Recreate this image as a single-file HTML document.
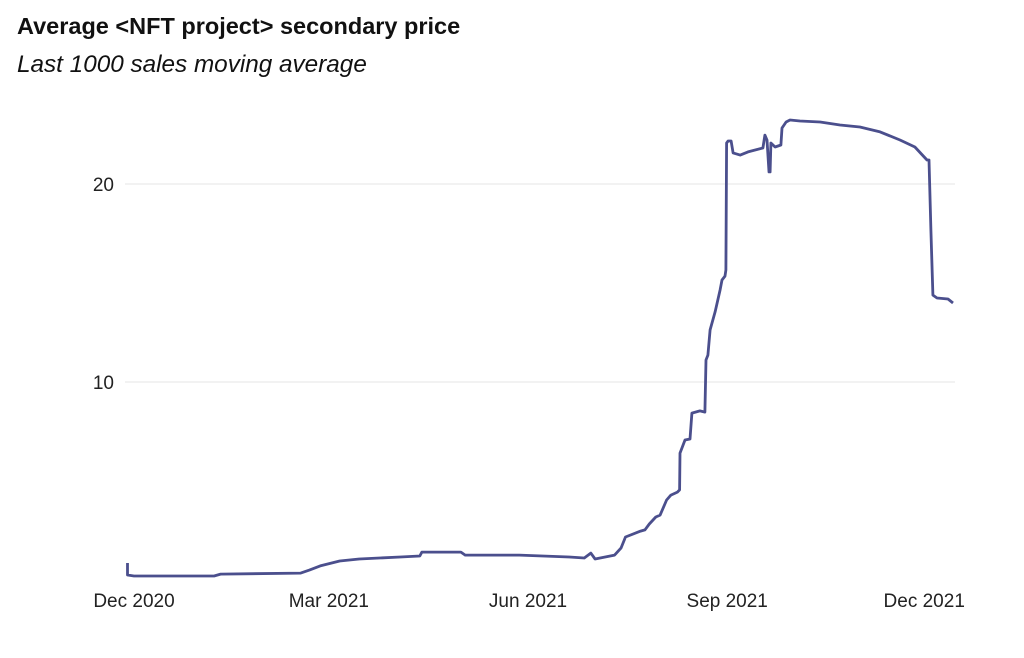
<!DOCTYPE html>
<html><head><meta charset="utf-8"><style>
body{margin:0;background:#fff;font-family:"Liberation Sans",sans-serif;}
svg{display:block}
</style></head><body>
<svg width="1024" height="658">
<text x="17" y="34" font-size="23.5" font-weight="bold" fill="#111">Average &lt;NFT project&gt; secondary price</text>
<text x="17" y="72" font-size="24.3" font-style="italic" fill="#111">Last 1000 sales moving average</text>
<g id="grid"></g><g id="yticks"></g><g id="xticks"></g>
<path id="line" fill="none" stroke="#4b4f8d" stroke-width="2.8" stroke-linejoin="round"/>
</svg>
<script>
const days=[-3,-3,0,37,40,77,81,86,95,104,123,132,133,151,153,178,201,208,211,213,222,225,227,234,236,238,241,243,246,248,251,252,252.2,254.5,256.8,257.7,261.4,263.7,264.2,265.1,266.1,268.4,270.7,271.6,273,273.4,273.7,274.4,275.8,276.7,280,283.6,290.5,291.4,292.4,293.3,293.8,294.2,296.1,298.8,299.3,301.2,303,307.6,316.9,326.1,335.3,344.6,353.8,360.7,366.3,367.2,368.1,369,370.9,376,378.3];
const values=[0.86,0.25,0.2,0.2,0.3,0.35,0.5,0.71,0.96,1.06,1.16,1.21,1.41,1.41,1.26,1.26,1.16,1.11,1.36,1.06,1.26,1.62,2.17,2.47,2.53,2.83,3.18,3.28,4.04,4.29,4.44,4.55,6.41,7.07,7.12,8.43,8.54,8.48,11.11,11.36,12.63,13.54,14.65,15.15,15.35,15.66,22.07,22.17,22.17,21.57,21.46,21.62,21.82,22.47,22.22,20.61,20.61,22.07,21.87,21.97,22.83,23.13,23.23,23.18,23.13,22.98,22.88,22.63,22.22,21.87,21.21,21.21,17.68,14.39,14.24,14.19,13.99];
const yTicks=[10,20];
const xTickLabels=["Dec 2020","Mar 2021","Jun 2021","Sep 2021","Dec 2021"];
const xTickDays=[0,90,182,274,365];
const NS="http://www.w3.org/2000/svg";
const x=d=>134+d*2.165;
const y=v=>580-v*19.8;
const grid=document.getElementById('grid'),yt=document.getElementById('yticks'),xt=document.getElementById('xticks');
yTicks.forEach(t=>{
 const l=document.createElementNS(NS,'line');
 l.setAttribute('x1',125);l.setAttribute('x2',955);l.setAttribute('y1',y(t));l.setAttribute('y2',y(t));
 l.setAttribute('stroke','#e6e6e6');l.setAttribute('stroke-width','1');
 
 
 grid.appendChild(l);
 const tx=document.createElementNS(NS,'text');
 tx.setAttribute('x',114);tx.setAttribute('y',y(t)+7);tx.setAttribute('text-anchor','end');
 tx.setAttribute('font-size','19');tx.setAttribute('fill','#222');tx.textContent=t;
 
 
 yt.appendChild(tx);
});
xTickLabels.forEach((lab,i)=>{
 const tx=document.createElementNS(NS,'text');
 tx.setAttribute('x',x(xTickDays[i]));tx.setAttribute('y',607);tx.setAttribute('text-anchor','middle');
 tx.setAttribute('font-size','19');tx.setAttribute('fill','#222');tx.textContent=lab;
 
 
 xt.appendChild(tx);
});
document.getElementById('line').setAttribute('d',days.map((d,i)=>(i?'L':'M')+x(d).toFixed(1)+','+y(values[i]).toFixed(1)).join(''));
</script>
</body></html>
